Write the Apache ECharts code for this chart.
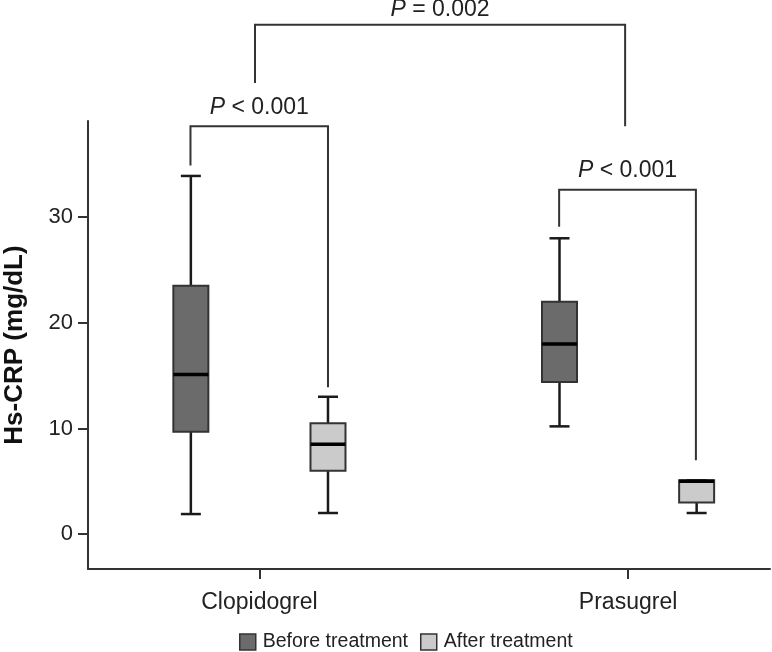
<!DOCTYPE html>
<html>
<head>
<meta charset="utf-8">
<script src="https://cdn.jsdelivr.net/npm/echarts@6/dist/echarts.min.js"></script>
<style>
  html, body { margin: 0; padding: 0; background: #fff; }
  #chart { width: 772px; height: 652px; }
</style>
</head>
<body>
<div id="chart"></div>
<script>
// groups on the x axis (value positions 1 and 2)
const groups = ['Clopidogrel', 'Prasugrel'];
const groupPos = [1, 2];
const boxOffset = 0.186; // before / after sit either side of the group tick

const seriesNames = ['Before treatment', 'After treatment'];
// [min, q1, median, q3, max]
const beforeStats = [[1.9, 9.7, 15.1, 23.5, 33.9], [10.2, 14.4, 18.0, 22.0, 28.0]];
const afterStats = [[2.0, 6.0, 8.5, 10.5, 13.0], [2.0, 3.0, 5.0, 5.1, 5.1]];

const yTicks = [0, 10, 20, 30];

// significance brackets: [xLeft, xRight, yTop, yLeftEnd, yRightEnd]
const brackets = [
  [0.813, 1.186, 38.6, 34.9, 13.9],
  [1.813, 2.184, 32.6, 29.1, 7.0],
  [0.988, 1.992, 48.2, 42.7, 38.6]
];
const bracketLabels = ['{i|P} < 0.001', '{i|P} < 0.001', '{i|P} = 0.002'];
const labelGap = [19, 19, 15]; // px between bracket line and its text centre

const fillColors = ['#6b6b6b', '#cbcbcb'];
const fontFam = '"Liberation Sans", Arial, sans-serif';

function boxData(stats, sign) {
  return stats.map((s, i) => [groupPos[i] + sign * boxOffset].concat(s));
}

function renderBox(params, api) {
  const x = api.value(0);
  const pMin = api.coord([x, api.value(1)]);
  const pQ1 = api.coord([x, api.value(2)]);
  const pMed = api.coord([x, api.value(3)]);
  const pQ3 = api.coord([x, api.value(4)]);
  const pMax = api.coord([x, api.value(5)]);
  const cx = pMin[0];
  const half = 17.5, cap = 10;
  const wStyle = { stroke: '#1a1a1a', lineWidth: 2.5 };
  return {
    type: 'group',
    children: [
      { type: 'line', shape: { x1: cx, y1: pQ3[1], x2: cx, y2: pMax[1] }, style: wStyle },
      { type: 'line', shape: { x1: cx, y1: pQ1[1], x2: cx, y2: pMin[1] }, style: wStyle },
      { type: 'line', shape: { x1: cx - cap, y1: pMax[1], x2: cx + cap, y2: pMax[1] }, style: wStyle },
      { type: 'line', shape: { x1: cx - cap, y1: pMin[1], x2: cx + cap, y2: pMin[1] }, style: wStyle },
      {
        type: 'rect',
        shape: { x: cx - half, y: pQ3[1], width: half * 2, height: pQ1[1] - pQ3[1] },
        style: { fill: api.visual('color'), stroke: '#333', lineWidth: 2 }
      },
      { type: 'line', shape: { x1: cx - half, y1: pMed[1], x2: cx + half, y2: pMed[1] }, style: { stroke: '#000', lineWidth: 3.5 } }
    ]
  };
}

function renderBracket(params, api) {
  const xl = api.value(0), xr = api.value(1);
  const top = api.value(2);
  const a = api.coord([xl, api.value(3)]);
  const b = api.coord([xl, top]);
  const c = api.coord([xr, top]);
  const d = api.coord([xr, api.value(4)]);
  return {
    type: 'group',
    children: [
      {
        type: 'polyline',
        shape: { points: [a, b, c, d] },
        style: { stroke: '#333', lineWidth: 2, fill: null }
      },
      {
        type: 'text',
        x: (b[0] + c[0]) / 2,
        y: b[1] - labelGap[params.dataIndex],
        style: {
          text: bracketLabels[params.dataIndex],
          align: 'center',
          verticalAlign: 'middle',
          fontSize: 23,
          fontFamily: fontFam,
          fill: '#222',
          rich: {
            i: { fontStyle: 'italic', fontSize: 23, fontFamily: fontFam, fill: '#222' }
          }
        }
      }
    ]
  };
}

const chart = echarts.init(document.getElementById('chart'));
chart.setOption({
  animation: false,
  backgroundColor: '#fff',
  grid: { left: 88, right: 2, top: 121, bottom: 83, containLabel: false, outerBoundsMode: 'none' },
  legend: {
    left: 234,
    top: 627,
    itemWidth: 16,
    itemHeight: 16,
    itemGap: 12,
    textStyle: { fontSize: 19.5, fontFamily: fontFam, color: '#222', padding: [0, 0, 0, 2] },
    data: seriesNames.map((n, i) => ({
      name: n,
      icon: 'rect',
      itemStyle: { color: fillColors[i], borderColor: '#333', borderWidth: 1.5 }
    }))
  },
  xAxis: {
    type: 'value',
    min: 0.535,
    max: 2.385,
    splitLine: { show: false },
    axisLine: { onZero: false, lineStyle: { color: '#333', width: 2 } },
    axisTick: { customValues: groupPos, length: 10, lineStyle: { color: '#333', width: 2 } },
    axisLabel: {
      customValues: groupPos,
      formatter: v => groups[groupPos.indexOf(v)] || '',
      fontSize: 23,
      fontFamily: fontFam,
      color: '#222',
      margin: 22
    }
  },
  yAxis: {
    type: 'value',
    min: -3.3,
    max: 39.1,
    name: 'Hs-CRP (mg/dL)',
    nameLocation: 'middle',
    nameGap: 60,
    nameTextStyle: { fontSize: 26, fontWeight: 'bold', fontFamily: fontFam, color: '#111' },
    splitLine: { show: false },
    axisLine: { show: true, onZero: false, lineStyle: { color: '#333', width: 2 } },
    axisTick: { show: true, customValues: yTicks, length: 10, lineStyle: { color: '#333', width: 2 } },
    axisLabel: { customValues: yTicks, fontSize: 22, fontFamily: fontFam, color: '#222', margin: 15 }
  },
  series: [
    {
      name: seriesNames[0],
      type: 'custom',
      renderItem: renderBox,
      itemStyle: { color: fillColors[0] },
      encode: { x: 0, y: [1, 2, 3, 4, 5] },
      data: boxData(beforeStats, -1),
      clip: false
    },
    {
      name: seriesNames[1],
      type: 'custom',
      renderItem: renderBox,
      itemStyle: { color: fillColors[1] },
      encode: { x: 0, y: [1, 2, 3, 4, 5] },
      data: boxData(afterStats, 1),
      clip: false
    },
    {
      name: 'brackets',
      type: 'custom',
      renderItem: renderBracket,
      encode: { x: [0, 1], y: [2, 3, 4] },
      data: brackets,
      clip: false,
      silent: true
    }
  ]
});
</script>
</body>
</html>
